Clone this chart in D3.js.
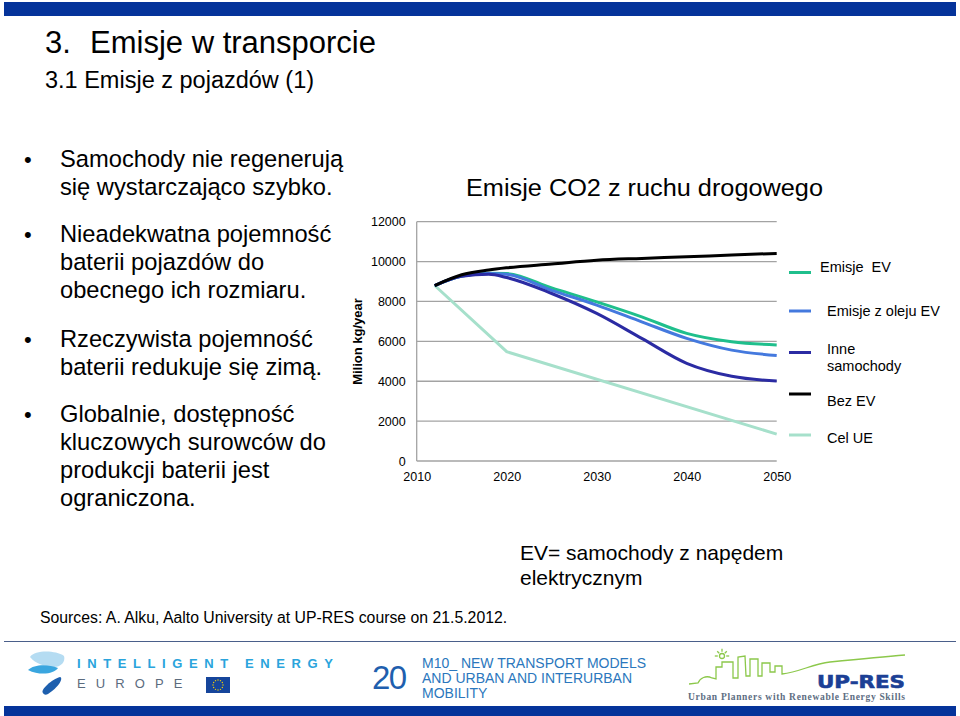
<!DOCTYPE html>
<html><head><meta charset="utf-8">
<script src="https://cdn.jsdelivr.net/npm/d3@7"></script>
<style>
html,body{margin:0;padding:0;background:#fff;}
svg{display:block;font-family:"Liberation Sans",Arial,sans-serif;}
text{white-space:pre;}
</style></head>
<body>
<svg id="c" width="960" height="716"></svg>
<script>
// ---- DATA ----
const years = [2012, 2015, 2018, 2020, 2025, 2030, 2035, 2040, 2045, 2050];
const emisjeEV      = [8800, 9280, 9420, 9400, 8680, 7980, 7230, 6400, 5980, 5820];
const emisjeOlejuEV = [8800, 9280, 9400, 9360, 8560, 7820, 6980, 6150, 5560, 5290];
const inneSamochody = [8800, 9260, 9360, 9200, 8400, 7400, 6150, 4900, 4250, 4010];
const bezEV         = [8800, 9340, 9580, 9690, 9880, 10070, 10160, 10240, 10330, 10410];
const celUEYears  = [2012, 2020, 2050];
const celUEValues = [8800, 5480, 1350];
const seriesNames = ["Emisje  EV", "Emisje z oleju EV", "Inne samochody", "Bez EV", "Cel UE"];
const seriesColors = ["#1fbf8c", "#4479de", "#2b2ba3", "#000000", "#a6e0cb"];
const yTicks = [0, 2000, 4000, 6000, 8000, 10000, 12000];
const xTicks = [2010, 2020, 2030, 2040, 2050];
const chartTitle = "Emisje CO2 z ruchu drogowego";
const yAxisTitle = "Milion kg/year";

const svg = d3.select("#c");
const FONT = '"Liberation Sans",Arial,sans-serif';

// ---- slide decoration ----
svg.append("rect").attr("x",4).attr("y",2).attr("width",952).attr("height",14).attr("fill","#05339a");
svg.append("text").attr("x",45).attr("y",53).attr("font-size",31).attr("fill","#000").text("3.");
svg.append("text").attr("x",90).attr("y",53).attr("font-size",31).attr("fill","#000").text("Emisje w transporcie");
svg.append("text").attr("x",45).attr("y",88).attr("font-size",23.5).attr("fill","#000").text("3.1 Emisje z pojazdów (1)");

const bullets = [
  {lines:["Samochody nie regenerują","się wystarczająco szybko."], y:166.5},
  {lines:["Nieadekwatna pojemność","baterii pojazdów do","obecnego ich rozmiaru."], y:241.5},
  {lines:["Rzeczywista pojemność","baterii redukuje się zimą."], y:347},
  {lines:["Globalnie, dostępność","kluczowych surowców do","produkcji baterii jest","ograniczona."], y:421.5}
];
bullets.forEach(b=>{
  svg.append("text").attr("x",24).attr("y",b.y).attr("font-size",22).text("•");
  b.lines.forEach((l,i)=>{
    svg.append("text").attr("x",60).attr("y",b.y+i*28.3).attr("font-size",23.7).attr("fill","#000").text(l);
  });
});

svg.append("text").attr("x",520).attr("y",560).attr("font-size",21).text("EV= samochody z napędem");
svg.append("text").attr("x",520).attr("y",585).attr("font-size",21).text("elektrycznym");
svg.append("text").attr("x",40).attr("y",623).attr("font-size",15.8).text("Sources: A. Alku, Aalto University at UP-RES course on 21.5.2012.");

// ---- chart ----
const x = d3.scaleLinear().domain([2010,2050]).range([416.7,776.7]);
const y = d3.scaleLinear().domain([0,12000]).range([461,221.7]);

const g = svg.append("g");
g.selectAll("line.grid").data(yTicks).enter().append("line")
  .attr("x1",x(2010)).attr("x2",x(2050)).attr("y1",d=>y(d)).attr("y2",d=>y(d))
  .attr("stroke","#a3a3a3").attr("stroke-width",1.3);
g.append("line").attr("x1",x(2010)).attr("x2",x(2010)).attr("y1",y(12000)).attr("y2",y(0))
  .attr("stroke","#a3a3a3").attr("stroke-width",1.3);

const yAxis = d3.axisLeft(y).tickValues(yTicks).tickSize(0).tickPadding(11).tickFormat(d3.format("d"));
const ya = g.append("g").attr("transform",`translate(${x(2010)},0)`).call(yAxis);
ya.select(".domain").remove();
ya.selectAll("text").attr("font-size",12.5).attr("font-family",FONT).attr("fill","#000");

const xAxis = d3.axisBottom(x).tickValues(xTicks).tickSize(0).tickPadding(11).tickFormat(d3.format("d"));
const xa = g.append("g").attr("transform",`translate(0,${y(0)})`).call(xAxis);
xa.select(".domain").remove();
xa.selectAll("text").attr("font-size",12.5).attr("font-family",FONT).attr("fill","#000");

svg.append("text").attr("x",466).attr("y",196).attr("font-size",23.5)
  .attr("textLength",357).attr("lengthAdjust","spacingAndGlyphs").attr("fill","#000").text(chartTitle);
svg.append("text").attr("transform","translate(362,341.5) rotate(-90)").attr("text-anchor","middle")
  .attr("font-size",13).attr("font-weight","bold").text(yAxisTitle);

const smooth = d3.line().x(d=>x(d[0])).y(d=>y(d[1])).curve(d3.curveMonotoneX);
const straight = d3.line().x(d=>x(d[0])).y(d=>y(d[1]));
const data = [emisjeEV, emisjeOlejuEV, inneSamochody, bezEV];
g.append("path").attr("d",straight(celUEYears.map((yr,i)=>[yr,celUEValues[i]])))
  .attr("fill","none").attr("stroke",seriesColors[4]).attr("stroke-width",3);
[0,1,2,3].forEach(k=>{
  g.append("path").attr("d",smooth(years.map((yr,i)=>[yr,data[k][i]])))
    .attr("fill","none").attr("stroke",seriesColors[k]).attr("stroke-width",3);
});

// legend
const legY = [272.5, 311, 352.5, 394, 435];
const legText = [["Emisje  EV"],["Emisje z oleju EV"],["Inne","samochody"],["Bez EV"],["Cel UE"]];
const legTextY = [272, 316, 354, 406, 443];
const legTextX = [820, 827, 827, 827, 827];
seriesNames.forEach((n,i)=>{
  svg.append("line").attr("x1",789).attr("x2",811).attr("y1",legY[i]).attr("y2",legY[i])
    .attr("stroke",seriesColors[i]).attr("stroke-width",3);
  legText[i].forEach((t,j)=>{
    svg.append("text").attr("x",legTextX[i]).attr("y",legTextY[i]+j*17).attr("font-size",14.5).text(t);
  });
});

// ---- footer ----
svg.append("line").attr("x1",4).attr("x2",956).attr("y1",641.5).attr("y2",641.5).attr("stroke","#4a5f8a").attr("stroke-width",1.2);
svg.append("rect").attr("x",4).attr("y",706).attr("width",952).attr("height",10).attr("fill","#05339a");

// IEE logo
const lg = svg.append("g");
lg.append("path").attr("d","M30,657 C35,650 55,650 64,656 C66,662 60,668 52,667 C44,666 36,664 30,657 Z").attr("fill","#b5dcf2");
lg.append("path").attr("d","M28,670 C34,664 48,664 58,668 C54,674 40,676 28,670 Z").attr("fill","#3aa6df");
lg.append("path").attr("d","M43,693 C40,690 52,679 60,677 C64,678 58,688 48,694 C46,695 44,695 43,693 Z").attr("fill","#1d5fae");
lg.append("text").attr("x",77).attr("y",668).attr("font-size",13).attr("font-weight","bold")
  .attr("letter-spacing",6.6).attr("fill","#2aa4dc").text("INTELLIGENT ENERGY");
lg.append("text").attr("x",77).attr("y",688).attr("font-size",13)
  .attr("letter-spacing",10.1).attr("fill","#5b6b7e").text("EUROPE");
lg.append("rect").attr("x",206).attr("y",677).attr("width",24).attr("height",16).attr("fill","#16459b");
d3.range(12).forEach(i=>{
  const a = i*Math.PI/6;
  lg.append("circle").attr("cx",218+5*Math.cos(a)).attr("cy",685+5*Math.sin(a)).attr("r",0.7).attr("fill","#f5d000");
});

// page number and module title
svg.append("text").attr("x",372).attr("y",689).attr("font-size",33).attr("fill","#1f5fae").attr("textLength",35).text("20");
["M10_ NEW TRANSPORT MODELS","AND URBAN AND INTERURBAN","MOBILITY"].forEach((t,i)=>{
  svg.append("text").attr("x",422).attr("y",668+i*15).attr("font-size",14).attr("fill","#2b77bd").text(t);
});

// UP-RES logo
const ug = svg.append("g").attr("fill","none").attr("stroke","#8cc84b").attr("stroke-width",1.3);
ug.append("path").attr("d","M689,684 L698,683 C700,678 706,675 712,678 L716,679 L716,667 L722,667 L722,662 L733,662 L733,678 L738,678 L738,657 L745,656 L746,676 L750,676 L750,659 L758,659 L758,676 L762,676 L762,663 L770,663 L770,672 L775,672 L775,666 L782,666 L782,674 C800,672 812,664 830,662 C860,659 880,657 905,655");
ug.append("circle").attr("cx",722).attr("cy",656).attr("r",2.5);
[[-6,0],[6,0],[0,-6],[-4,-4],[4,-4]].forEach(p=>{
  ug.append("line").attr("x1",722+p[0]*0.7).attr("y1",656+p[1]*0.7).attr("x2",722+p[0]*1.2).attr("y2",656+p[1]*1.2);
});
svg.append("text").attr("x",817).attr("y",688).attr("font-size",17).attr("font-weight","bold").attr("fill","#1c3f95")
  .attr("textLength",88).attr("lengthAdjust","spacingAndGlyphs").attr("font-family",'"DejaVu Sans",sans-serif')
  .attr("stroke","#1c3f95").attr("stroke-width",0.6).text("UP-RES");
svg.append("text").attr("x",688).attr("y",700).attr("font-size",9.5).attr("font-weight","bold").attr("fill","#5d6d82")
  .attr("font-family",'"Liberation Serif",serif').attr("textLength",217).text("Urban Planners with Renewable Energy Skills");
</script>
</body></html>
